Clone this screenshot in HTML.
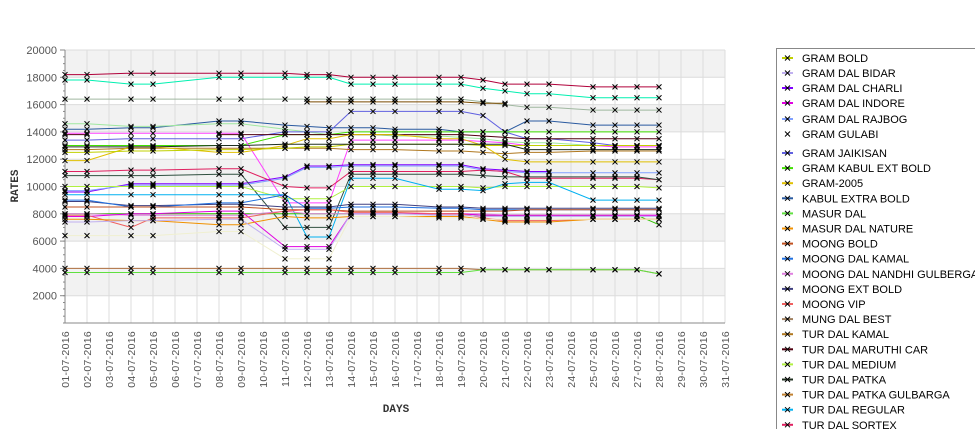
<!DOCTYPE html>
<html><head><meta charset="utf-8"><style>
body{margin:0;background:#fff;width:975px;height:429px;overflow:hidden;font-family:"Liberation Sans",sans-serif}
</style></head><body>
<svg id="chart" width="975" height="429" xmlns="http://www.w3.org/2000/svg" style="position:absolute;left:0;top:0">
<g id="bands"></g><g id="grid"></g><g id="axes"></g><g id="series"></g><g id="legend"></g>
<text x="18" y="186" transform="rotate(-90 18 186)" text-anchor="middle" font-size="11" font-weight="bold" fill="#333" font-family="Liberation Mono, monospace">RATES</text>
<text x="396" y="412" text-anchor="middle" font-size="11" font-weight="bold" fill="#333" font-family="Liberation Mono, monospace">DAYS</text>
</svg>
<script>
const days=[1,2,4,5,8,9,11,12,13,14,15,16,18,19,20,21,22,23,25,26,27,28];
const yTicks=[2000,4000,6000,8000,10000,12000,14000,16000,18000,20000];
const names=["GRAM BOLD","GRAM DAL BIDAR","GRAM DAL CHARLI","GRAM DAL INDORE","GRAM DAL RAJBOG","GRAM GULABI","GRAM JAIKISAN","GRAM KABUL EXT BOLD","GRAM-2005","KABUL EXTRA BOLD","MASUR DAL","MASUR DAL NATURE","MOONG BOLD","MOONG DAL KAMAL","MOONG DAL NANDHI GULBERGA","MOONG EXT BOLD","MOONG VIP","MUNG DAL BEST","TUR DAL KAMAL","TUR DAL MARUTHI CAR","TUR DAL MEDIUM","TUR DAL PATKA","TUR DAL PATKA GULBARGA","TUR DAL REGULAR","TUR DAL SORTEX"];
const legendColors=["#c0d000","#c0b0f0","#8000ff","#e000e0","#80a0ff","#ffffff","#6060e0","#40e000","#e0c000","#2a5aa0","#60e040","#f09000","#c05020","#2070e0","#e080e0","#404080","#f06060","#a08060","#b07820","#500010","#b0f040","#203020","#c08030","#00b0f0","#e02060"];
const s1=[18200,18200,18300,18300,18300,18300,18300,18200,18200,18000,18000,18000,18000,18000,17800,17500,17500,17500,17300,17300,17300,17300];
const s2=[17800,17800,17500,17500,18000,18000,18000,18000,18000,17500,17500,17500,17500,17500,17200,17000,16800,16800,16500,16500,16500,16500];
const s3=[16400,16400,16400,16400,16400,16400,16400,16400,16400,16400,16400,16400,16400,16400,16200,16000,15800,15800,15600,15600,15600,15600];
const s4=[null,null,null,null,null,null,null,16200,16200,16200,16200,16200,16200,16200,16100,16100,null,null,null,null,null,null];
const s5=[14200,14200,14300,14300,14800,14800,14500,14400,14300,14300,14300,14200,14200,14000,14000,14000,14800,14800,14500,14500,14500,14500];
const s6=[14600,14600,14400,14400,14600,14600,14200,14000,13800,13800,13800,13700,13700,13600,13500,13300,13200,13200,13000,13000,13000,13000];
const s7=[13400,13400,13500,13500,13500,13500,14000,14000,14000,15500,15500,15500,15500,15500,15200,14000,13500,13500,13200,13000,13000,13000];
const s8=[13000,13000,13000,13000,13000,13000,13800,13800,13800,14000,14000,14000,14000,14000,14000,14000,14000,14000,14000,14000,14000,14000];
const s9=[13800,13800,null,null,13800,13800,13800,13800,13800,13800,13800,13800,13800,13800,13700,13600,13500,13500,13500,13500,13500,13500];
const s10=[13900,13900,13900,13900,13900,13900,8800,8800,8800,13400,13400,13400,13400,13400,13300,13200,13000,13000,13000,12900,12900,12900];
const s11=[12700,12700,12800,12800,12800,12800,12800,12800,12800,12700,12700,12700,12600,12600,12500,12400,12500,12500,12600,12600,12600,12600];
const s12=[11900,11900,12900,12900,12500,12500,13000,13500,13500,13800,13800,13800,13500,13500,13000,12000,11800,11800,11800,11800,11800,11800];
const s13=[12500,12500,12600,12600,12700,12700,12800,12900,12900,13100,13100,13100,13100,13100,13000,13000,13000,13000,13000,13000,13000,13000];
const s14=[12900,12900,12900,12900,13000,13000,13100,13100,13100,13100,13100,13100,13100,13100,13100,13100,12700,12700,12700,12700,12700,12700];
const s15=[9600,9600,10200,10200,10200,10200,10700,11500,11500,11600,11600,11600,11600,11600,11300,11200,11100,11100,null,null,null,null];
const s16=[9700,9700,10100,10100,10100,10100,10600,11400,11400,11500,11500,11500,11500,11500,11200,11100,11000,11000,11000,11000,11000,11000];
const s17=[11100,11100,11200,11200,11300,11300,10000,9900,9900,11100,11100,11100,11100,11100,11200,11100,10600,10600,10600,10600,10600,10500];
const s18=[10800,10800,10800,10800,10900,10900,7000,7000,7000,10900,10900,10900,10900,10900,10800,10700,10700,10700,10700,10700,10700,10500];
const s19=[10000,10000,10000,10000,10000,10000,9100,9100,9100,10000,10000,10000,10000,10000,9900,10000,10000,10000,10000,10000,10000,9900];
const s20=[9400,9400,9400,9400,9400,9400,9400,6300,6300,10600,10600,10600,9800,9800,9700,10200,10300,10300,9000,9000,9000,9000];
const s21=[8900,8900,8600,8600,8700,8700,8500,8500,8500,8700,8700,8700,8500,8500,8400,8400,8400,8400,8400,8400,8400,8400];
const s22=[9000,9000,8500,8500,8800,8800,9400,8400,8400,8500,8500,8500,8400,8400,8300,8300,8300,8300,8300,8300,8300,8300];
const s23=[8500,8500,8500,8500,8500,8500,8300,8300,8300,8200,8200,8200,8200,8200,8200,8200,8300,8300,8300,8300,8300,8300];
const s24=[8000,8000,8000,8000,8000,8000,8000,8000,8000,8000,8000,8000,8000,8000,7900,7900,7900,7900,7900,7900,7900,7200];
const s25=[8000,8000,7900,7900,7900,7900,8200,8000,8000,8000,8000,8000,8000,8000,8000,7900,7900,7900,7900,7900,7900,7900];
const s26=[7800,7800,8000,8000,8200,8200,5600,5600,5600,8000,8000,8000,8000,8000,7900,7900,7900,7900,7900,7900,7900,7900];
const s27=[7900,7900,7000,7700,7700,7700,8200,8300,8300,8100,8100,8100,8000,8000,7700,7500,7500,7500,7600,7600,7600,7600];
const s28=[7600,7600,7500,7500,7200,7200,7800,7700,7700,7800,7800,7800,7800,7800,7600,7400,7400,7400,7600,7600,7600,7600];
const s29=[7400,7400,7500,7500,7600,7600,5400,5400,5400,8000,8000,8000,7900,7900,7800,7800,7800,7800,7800,7800,7800,7800];
const s30=[6400,6400,6400,6400,6700,6700,4700,4700,4700,7800,7800,7800,7700,7700,7600,7600,7600,7600,7600,7600,7600,7600];
const s31=[4000,4000,4000,4000,4000,4000,4000,4000,4000,4000,4000,4000,4000,4000,3900,3900,3900,3900,3900,3900,3900,3600];
const s32=[3700,3700,3700,3700,3700,3700,3700,3700,3700,3700,3700,3700,3700,3700,3900,3900,3900,3900,3900,3900,3900,3600];
const seriesList=[s1,s2,s3,s4,s5,s6,s7,s8,s9,s10,s11,s12,s13,s14,s15,s16,s17,s18,s19,s20,s21,s22,s23,s24,s25,s26,s27,s28,s29,s30,s31,s32];
const seriesColors=["#b0003a","#00f0b0","#a0b8a0","#7a4a00","#2a5aa0","#a0e8a0","#6060e0","#40e000","#500010","#ff40ff","#b07820","#e0c000","#c0d000","#203020","#8000ff","#80a0ff","#e02060","#305040","#b0f040","#00b0f0","#404080","#2070e0","#c05020","#30c000","#e080e0","#e000e0","#f06060","#f09000","#c0b0f0","#f0f0d0","#b07040","#60e040"];

const NS="http://www.w3.org/2000/svg";
const L=65,R=725,T=50,B=323;
const x=d=>L+(d-1)*22;
const y=v=>B-(v/20000)*(B-T);
function mk(tag,parent,attrs){const e=document.createElementNS(NS,tag);for(const k in attrs)e.setAttribute(k,attrs[k]);document.getElementById(parent).appendChild(e);return e;}
for(let v=18000;v>=0;v-=4000){const e=mk('rect','bands',{x:L,y:y(v+2000),width:R-L,height:y(v)-y(v+2000),fill:'#f2f2f2'});

}
for(let d=1;d<=31;d++){const e=mk('line','grid',{x1:x(d),x2:x(d),y1:T,y2:B,stroke:'#dcdcdc','stroke-width':1});


const t=mk('text','axes',{x:0,y:0,transform:`translate(${x(d)+4},${B+8}) rotate(-90)`,'text-anchor':'end','font-size':10.5,fill:'#555','letter-spacing':'0.3'});
t.textContent=String(d).padStart(2,'0')+'-07-2016';

}
for(const v of yTicks){const e=mk('line','grid',{x1:L,x2:R,y1:y(v),y2:y(v),stroke:'#dcdcdc','stroke-width':1});


const t=mk('text','axes',{x:57,y:y(v)+4,'text-anchor':'end','font-size':11,fill:'#555'});
t.textContent=v;


mk('line','axes',{x1:L-5,x2:L,y1:y(v),y2:y(v),stroke:'#888'});}
for(let v=0;v<=20000;v+=500){mk('line','axes',{x1:L-2,x2:L,y1:y(v),y2:y(v),stroke:'#888'});}
mk('line','axes',{x1:L,x2:L,y1:T,y2:B,stroke:'#888'});
mk('line','axes',{x1:L,x2:R,y1:B,y2:B,stroke:'#888'});
seriesList.forEach((s,i)=>{let d='';let pen=false;
s.forEach((v,j)=>{if(v==null){pen=false;return;}d+=(pen?'L':'M')+x(days[j])+' '+y(v).toFixed(1)+' ';pen=true;});
const p=mk('path','series',{d:d,fill:'none',stroke:seriesColors[i],'stroke-width':1});

});
seriesList.forEach((s,i)=>{s.forEach((v,j)=>{if(v==null)return;const cx=x(days[j]),cy=y(v);
const m=mk('path','series',{d:`M${cx-2.5} ${cy-2.5}L${cx+2.5} ${cy+2.5}M${cx-2.5} ${cy+2.5}L${cx+2.5} ${cy-2.5}`,stroke:'#000','stroke-width':1});

});});
const lb=mk('rect','legend',{x:776.5,y:48.5,width:210,height:400,fill:'#fff',stroke:'#888'});


names.forEach((n,i)=>{const ly=i<4?58+15*i:(i===4?119:(i===5?134:153+15.1*(i-6)));
mk('line','legend',{x1:782,x2:793,y1:ly,y2:ly,stroke:legendColors[i],'stroke-width':2});
mk('path','legend',{d:`M${785} ${ly-2.5}L${790} ${ly+2.5}M${785} ${ly+2.5}L${790} ${ly-2.5}`,stroke:'#000','stroke-width':1});
const t=mk('text','legend',{x:802,y:ly+4,'font-size':11,fill:'#000'});
t.textContent=n;

});
</script>
</body></html>
